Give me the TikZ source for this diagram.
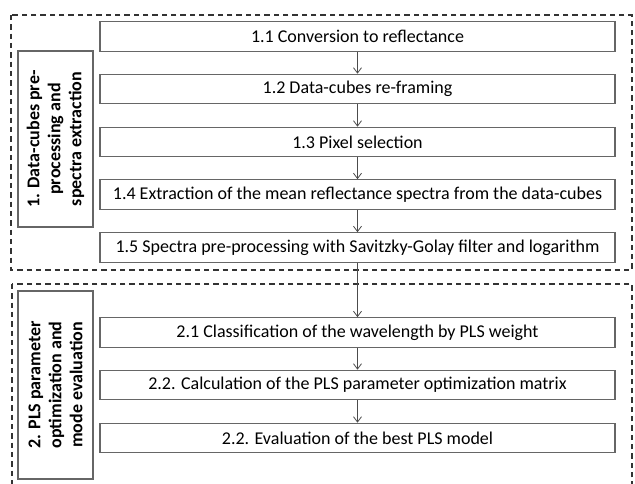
\documentclass[tikz,border=0pt]{standalone}
\usepackage{fontspec}
\setmainfont{Carlito}
\usetikzlibrary{arrows.meta}

\tikzset{every picture/.style={line width=0.75pt}}
\tikzset{
  stepbox/.style={draw=black!60, line width=0.9pt, minimum width=386.25pt, minimum height=22pt,
    inner sep=0pt, font=\fontsize{13.5}{16}\selectfont},
  phasebox/.style={draw=black!60, line width=0.9pt, rotate=90, align=center, inner sep=0pt,
    minimum height=56.25pt, font=\bfseries\fontsize{13.5}{15.75}\selectfont},
  phaseframe/.style={draw=black!80, dashed, dash pattern=on 4pt off 3pt, line width=0.8pt},
  flow/.style={draw=black!70, line width=0.6pt, -{Straight Barb[length=4pt,width=6pt]}}
}

\begin{document}
\begin{tikzpicture}[x=0.75pt,y=0.75pt,yscale=-1,xscale=1]
\useasboundingbox (0,0) rectangle (635,484);
\clip (0,0) rectangle (635,484);

% phase frames
\draw [phaseframe] (11,15) rectangle (632,270);
\draw [phaseframe] (12,284) rectangle (632,500);

% phase labels
\node [phasebox, minimum width=132pt] (p1) at (55.5,139) {1. Data-cubes pre-\\processing and\\spectra extraction};
\node [phasebox, minimum width=141pt] (p2) at (55.5,385) {2. PLS parameter\\optimization and\\mode evaluation};

% steps of phase 1
\node [stepbox] (s11) at (357.5,36.5) {1.1 Conversion to reflectance};
\node [stepbox] (s12) at (357.5,89) {1.2 Data-cubes re-framing};
\node [stepbox] (s13) at (357.5,142) {1.3 Pixel selection};
\node [stepbox] (s14) at (357.5,194.5) {1.4 Extraction of the mean reflectance spectra from the data-cubes};
\node [stepbox] (s15) at (357.5,247.5) {1.5 Spectra pre-processing with Savitzky-Golay filter and logarithm};

% steps of phase 2
\node [stepbox] (s21) at (357.5,332.5) {2.1 Classification of the wavelength by PLS weight};
\node [stepbox] (s22) at (357.5,385) {2.2. Calculation of the PLS parameter optimization matrix};
\node [stepbox] (s23) at (357.5,438) {2.2. Evaluation of the best PLS model};

\draw [flow] (s11) -- (s12);
\draw [flow] (s12) -- (s13);
\draw [flow] (s13) -- (s14);
\draw [flow] (s14) -- (s15);
\draw [flow] (s15) -- (s21);
\draw [flow] (s21) -- (s22);
\draw [flow] (s22) -- (s23);

\end{tikzpicture}
\end{document}
